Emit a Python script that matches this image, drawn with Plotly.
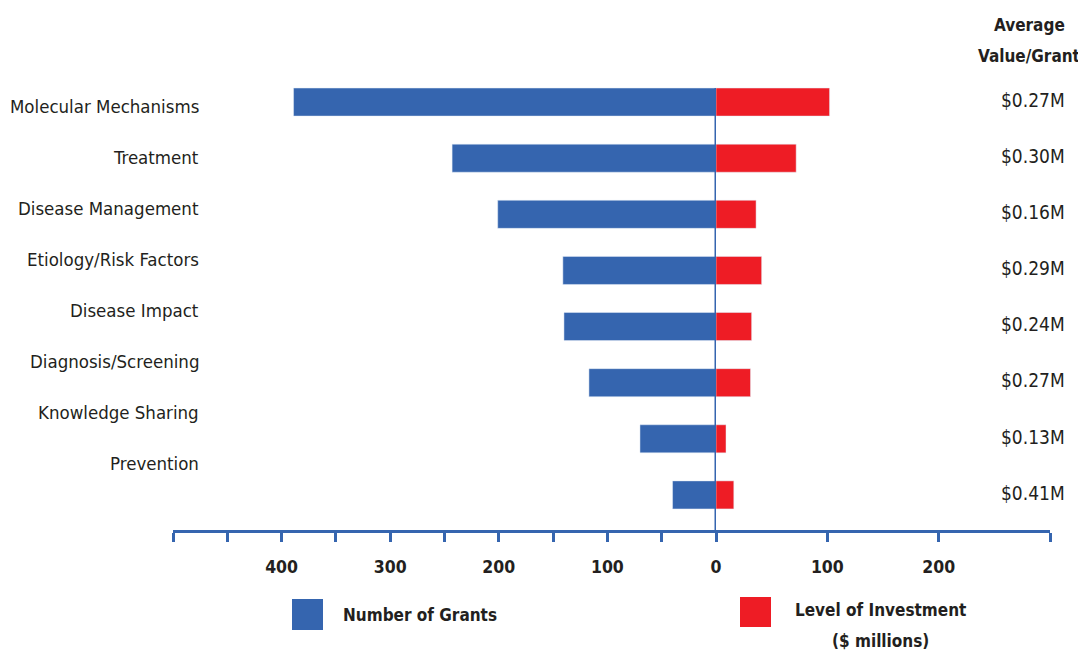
import plotly.graph_objects as go

categories = ["Molecular Mechanisms", "Treatment", "Disease Management", "Etiology/Risk Factors",
              "Disease Impact", "Diagnosis/Screening", "Knowledge Sharing", "Prevention"]
num_grants = [389, 243, 201, 141, 140, 117, 70, 40]
investment = [102, 72, 36, 41, 32, 31, 9, 16]
avg_value = ["$0.27M", "$0.30M", "$0.16M", "$0.29M", "$0.24M", "$0.27M", "$0.13M", "$0.41M"]
left_ticks = [-500, -450, -400, -350, -300, -250, -200, -150, -100, -50, 0]
left_labels = ["", "", "400", "", "300", "", "200", "", "100", "", "0"]
right_ticks = [100, 200, 300]
right_labels = ["100", "200", ""]

BLUE = "#3565AF"
RED = "#EE1C25"
TXT = "#231F20"
FONT = "Liberation Sans Narrow, DejaVu Sans Condensed, Arial Narrow, sans-serif"

OFF = 8  # page body margin
W, H = 1086 - OFF, 654 - OFF
L, T = 173 - OFF, 74 - OFF
B = H - (530 - OFF)
R = W - (1050 - OFF)
PW, PH = W - L - R, H - T - B
split = (716 - 173) / PW

def px_x(px):
    return (px - OFF - L) / PW

def px_y(py):
    return (H - B - (py - OFF)) / PH

def data_y(py):
    return (py - 102) / 56.0

ypos = list(range(len(categories)))

fig = go.Figure()
fig.add_trace(go.Bar(y=ypos, x=[-v for v in num_grants], orientation="h", marker_color=BLUE,
                     width=0.5, xaxis="x", yaxis="y", name="Number of Grants", showlegend=False))
fig.add_trace(go.Bar(y=ypos, x=investment, orientation="h", marker_color=RED,
                     width=0.5, xaxis="x2", yaxis="y", name="Level of Investment", showlegend=False))

axis_common = dict(showgrid=False, zeroline=False, showline=True, linecolor=BLUE, linewidth=3,
                   ticks="outside", ticklen=9, tickwidth=3, tickcolor=BLUE,
                   tickfont=dict(family=FONT, size=17.5, color=TXT, weight="bold"),
                   ticklabelstandoff=10, tickmode="array")

fig.update_layout(
    width=W, height=H, margin=dict(l=L, r=R, t=T, b=B),
    paper_bgcolor="white", plot_bgcolor="white",
    xaxis=dict(domain=[0, split], range=[-500, 0], tickvals=left_ticks, ticktext=left_labels,
               anchor="y", **axis_common),
    xaxis2=dict(domain=[split, 1], range=[0, 300], tickvals=right_ticks, ticktext=right_labels,
                anchor="y", **axis_common),
    yaxis=dict(range=[7.625, -0.5], visible=False, showgrid=False, zeroline=False),
    bargap=0.5,
    font=dict(family=FONT, color=TXT),
)

shapes = [dict(type="line", xref="x", yref="y", x0=0, x1=0, y0=-0.25, y1=7.625,
               line=dict(color=BLUE, width=3), layer="above")]
shapes.append(dict(type="rect", xref="paper", yref="paper", x0=px_x(292), x1=px_x(323),
                   y0=px_y(630), y1=px_y(599), fillcolor=BLUE, line=dict(width=0)))
shapes.append(dict(type="rect", xref="paper", yref="paper", x0=px_x(740), x1=px_x(771),
                   y0=px_y(627), y1=px_y(597), fillcolor=RED, line=dict(width=0)))
fig.update_layout(shapes=shapes)

ann = []
for i, c in enumerate(categories):
    ann.append(dict(text=c, xref="paper", yref="y", x=px_x(201), y=data_y(106 + i * 51),
                    xanchor="right", yanchor="middle", showarrow=False,
                    font=dict(family=FONT, size=18.5, color=TXT)))
for i, v in enumerate(avg_value):
    ann.append(dict(text=v, xref="paper", yref="y", x=px_x(999), y=i - 0.04,
                    xanchor="left", yanchor="middle", showarrow=False,
                    font=dict(family=FONT, size=19, color=TXT)))
for txt, py in [("Average", 25), ("Value/Grant", 56)]:
    ann.append(dict(text=txt, xref="paper", yref="paper", x=px_x(1029), y=px_y(py),
                    xanchor="center", yanchor="middle", showarrow=False,
                    font=dict(family=FONT, size=17, color=TXT, weight="bold")))
ann.append(dict(text="Number of Grants", xref="paper", yref="paper", x=px_x(341), y=px_y(615),
                xanchor="left", yanchor="middle", showarrow=False,
                font=dict(family=FONT, size=17, color=TXT, weight="bold")))
for txt, py in [("Level of Investment", 610), ("($ millions)", 641)]:
    ann.append(dict(text=txt, xref="paper", yref="paper", x=px_x(880), y=px_y(py),
                    xanchor="center", yanchor="middle", showarrow=False,
                    font=dict(family=FONT, size=17, color=TXT, weight="bold")))
fig.update_layout(annotations=ann)

fig.write_html("out.html")
